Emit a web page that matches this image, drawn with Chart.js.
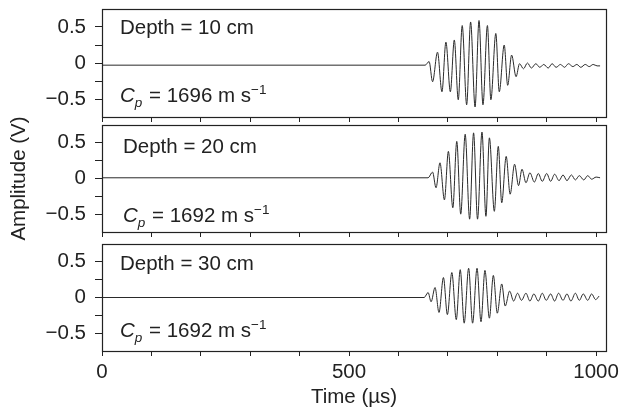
<!DOCTYPE html>
<html>
<head>
<meta charset="utf-8">
<script src="https://cdn.jsdelivr.net/npm/chart.js@4.4.1/dist/chart.umd.min.js"></script>
<style>
  html, body { margin: 0; padding: 0; background: #fff; }
  #wrap { position: relative; width: 631px; height: 413px; overflow: hidden; background: #fff; }
  canvas { position: absolute; left: 0; }
</style>
</head>
<body>
<div id="wrap">
  <canvas id="c1"></canvas>
  <canvas id="c3"></canvas>
  <canvas id="c2"></canvas>
</div>
<script>
// ---------- data ----------
const depthLabels = ['Depth = 10 cm', 'Depth = 20 cm', 'Depth = 30 cm'];
const cpValues = ['1696', '1692', '1692'];

const xTicks = [0, 100, 200, 300, 400, 500, 600, 700, 800, 900, 1000];
const xTickLabels = ['0', '', '', '', '', '500', '', '', '', '', '1000'];
const yTicks = [-0.5, -0.25, 0, 0.25, 0.5];
const yTickLabels = ['\u22120.5', '', '0', '', '0.5'];

// Depth = 10 cm
const time1 = [0, 654, 662, 669, 679, 688, 696, 705, 713, 721, 729, 738, 746, 755, 763, 771, 780, 787, 797, 804, 814, 821, 829, 838, 845,
  853, 861, 869, 878, 886, 894, 903, 911, 919, 928, 936, 944, 953, 961, 969, 978, 986, 994, 1002, 1008];
const amp1 = [-0.03, -0.03, 0.02, -0.26, 0.15, -0.40, 0.29, -0.40, 0.32, -0.51, 0.52, -0.58, 0.57, -0.61, 0.59, -0.58, 0.52, -0.51, 0.41, -0.40, 0.25, -0.31, 0.11, -0.19, -0.01,
  -0.08, 0.00, -0.07, -0.01, -0.06, -0.02, -0.07, -0.01, -0.06, -0.02, -0.06, -0.01, -0.05, -0.02, -0.06, -0.02, -0.05, -0.02, -0.04, -0.04];

// Depth = 20 cm
const time2 = [0, 660, 669, 676, 684, 693, 701, 710, 718, 726, 735, 744, 752, 760, 769, 777, 784, 794, 802, 809, 818, 826, 835, 843, 850, 858,
  866, 875, 883, 891, 900, 908, 916, 925, 933, 941, 950, 958, 966, 975, 983, 991, 1000, 1008];
const amp2 = [0.01, 0.01, 0.09, -0.13, 0.22, -0.30, 0.38, -0.41, 0.52, -0.50, 0.62, -0.57, 0.64, -0.57, 0.65, -0.53, 0.57, -0.46, 0.45, -0.34, 0.31, -0.22, 0.20, -0.10, 0.13, -0.06,
  0.08, -0.05, 0.07, -0.04, 0.07, -0.04, 0.06, -0.03, 0.05, -0.03, 0.05, -0.02, 0.04, -0.02, 0.04, -0.01, 0.02, 0.01];

// Depth = 30 cm
const time3 = [0, 652, 660, 666, 674, 682, 691, 699, 708, 717, 725, 733, 742, 750, 759, 767, 775, 784, 792, 800, 809, 816, 825, 833,
  841, 849, 858, 866, 874, 883, 891, 899, 908, 916, 924, 933, 941, 949, 958, 966, 974, 983, 991, 999, 1006];
const amp3 = [0, 0, 0.07, -0.06, 0.14, -0.21, 0.28, -0.24, 0.35, -0.31, 0.39, -0.36, 0.41, -0.36, 0.41, -0.34, 0.38, -0.29, 0.31, -0.22, 0.19, -0.12, 0.09, -0.05,
  0.06, -0.04, 0.06, -0.05, 0.05, -0.05, 0.06, -0.04, 0.05, -0.05, 0.06, -0.04, 0.05, -0.05, 0.06, -0.04, 0.05, -0.04, 0.05, -0.03, 0.02];

// ---------- drawing ----------
const INK = '#222';
const FONT = '"Liberation Sans", Arial, Helvetica, sans-serif';
const FS = 20.5;

const boxAndText = {
  id: 'boxAndText',
  afterDraw(chart, args, opts) {
    const {ctx, chartArea: a} = chart;
    ctx.save();
    ctx.strokeStyle = INK;
    ctx.lineWidth = 1.2;
    ctx.strokeRect(Math.round(a.left) + 0.5, Math.round(a.top) + 0.5, Math.round(a.right - a.left), Math.round(a.bottom - a.top));
    ctx.fillStyle = INK;
    ctx.textBaseline = 'alphabetic';
    ctx.textAlign = 'left';
    ctx.font = FS + 'px ' + FONT;
    ctx.fillText(opts.depth, a.left + opts.dx, a.top + opts.dy1);
    // Cp text
    let x = a.left + opts.dx;
    const y = a.bottom - opts.dy2;
    ctx.font = 'italic ' + FS + 'px ' + FONT;
    ctx.fillText('C', x, y);
    x += ctx.measureText('C').width;
    ctx.font = 'italic 13.5px ' + FONT;
    ctx.fillText('p', x, y + 5);
    x += ctx.measureText('p').width + 1;
    ctx.font = FS + 'px ' + FONT;
    const main = ' = ' + opts.cp + ' m s';
    ctx.fillText(main, x, y);
    x += ctx.measureText(main).width;
    ctx.font = '13.5px ' + FONT;
    ctx.fillText('\u22121', x, y - 8);
    ctx.restore();
  }
};

function makeChart(id, top, height, padTop, xAxisH, time, amp, idx, opts) {
  const cv = document.getElementById(id);
  cv.style.top = top + 'px';
  cv.width = 631; cv.height = height;
  cv.style.width = '631px'; cv.style.height = height + 'px';
  const pts = time.map((t, i) => ({x: t, y: amp[i]}));
  const last = idx === 2;
  return new Chart(cv, {
    type: 'line',
    data: { datasets: [{ data: pts, borderColor: '#2a2a2a', borderWidth: 1, pointRadius: 0,
      cubicInterpolationMode: 'monotone', fill: false }] },
    options: {
      responsive: false, animation: false, devicePixelRatio: 1,
      layout: { padding: { top: padTop, right: 25, bottom: 0, left: 0 } },
      plugins: { legend: { display: false }, tooltip: { enabled: false },
        boxAndText: Object.assign({ depth: depthLabels[idx], cp: cpValues[idx] }, opts) },
      scales: {
        x: {
          type: 'linear', min: 0, max: 1020,
          afterBuildTicks: s => { s.ticks = xTicks.map(v => ({value: v})); },
          afterFit: s => { s.height = xAxisH; s.paddingLeft = 0; s.paddingRight = 0; },
          ticks: { display: last, autoSkip: false, maxRotation: 0, padding: 4, color: INK,
            font: { family: FONT, size: FS },
            callback: (v) => { const k = xTicks.indexOf(v); return k >= 0 ? xTickLabels[k] : ''; } },
          grid: { display: true, drawOnChartArea: false, drawTicks: true, tickLength: 5, color: INK, lineWidth: 1 },
          border: { display: false },
          title: { display: last, text: 'Time (\u00b5s)', color: INK, font: { family: FONT, size: FS },
            padding: { top: 0, bottom: 3 } }
        },
        y: {
          type: 'linear', min: -0.75, max: 0.75,
          afterBuildTicks: s => { s.ticks = yTicks.map(v => ({value: v})); },
          afterFit: s => { s.width = 102; s.paddingTop = 0; s.paddingBottom = 0; },
          ticks: { autoSkip: false, padding: 9, color: INK, font: { family: FONT, size: FS },
            callback: (v) => { const k = yTicks.indexOf(v); return k >= 0 ? yTickLabels[k] : ''; } },
          grid: { display: true, drawOnChartArea: false, drawTicks: true, tickLength: 7, color: INK, lineWidth: 1 },
          border: { display: false },
          title: { display: idx === 1, text: 'Amplitude (V)', color: INK, font: { family: FONT, size: FS },
            padding: { top: 7, bottom: 0 } }
        }
      }
    },
    plugins: [boxAndText]
  });
}

makeChart('c1', 0, 127, 9, 10, time1, amp1, 0, { dx: 18, dy1: 25, dy2: 15 });
makeChart('c2', 100, 150, 25, 18, time2, amp2, 1, { dx: 21, dy1: 28, dy2: 10 });
makeChart('c3', 240, 173, 4, 62, time3, amp3, 2, { dx: 18, dy1: 26, dy2: 14 });
</script>
</body>
</html>
